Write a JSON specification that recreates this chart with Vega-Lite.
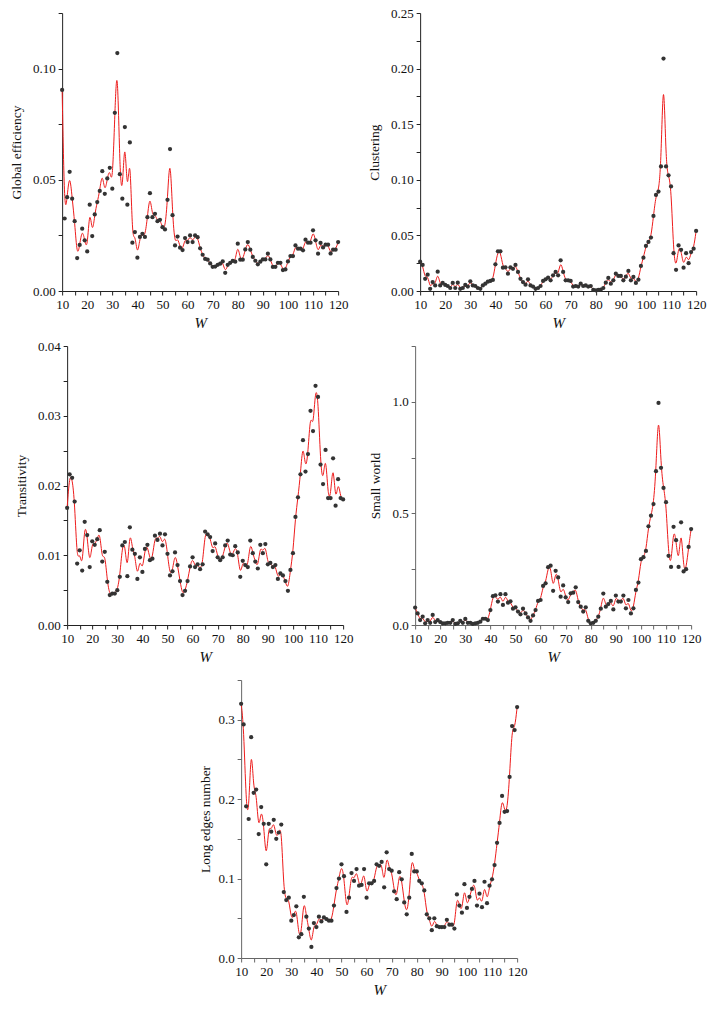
{
"$schema": "https://vega.github.io/schema/vega-lite/v6.json",
"padding": {"left": 9, "top": 7, "right": 5, "bottom": 5},
"background": "white",
"data": {"values": [
{"W":10,"ge":0.0904,"cl":0.0264,"tr":0.0168,"sw":0.078,"le":0.320},
{"W":11,"ge":0.0326,"cl":0.0234,"tr":0.0216,"sw":0.052,"le":0.294},
{"W":12,"ge":0.0422,"cl":0.011,"tr":0.0211,"sw":0.022,"le":0.191},
{"W":13,"ge":0.0536,"cl":0.0147,"tr":0.0177,"sw":0.037,"le":0.175},
{"W":14,"ge":0.0415,"cl":0.002,"tr":0.0088,"sw":0.0075,"le":0.278},
{"W":15,"ge":0.0314,"cl":0.008,"tr":0.0107,"sw":0.022,"le":0.208},
{"W":16,"ge":0.0148,"cl":0.005,"tr":0.0078,"sw":0.01,"le":0.212},
{"W":17,"ge":0.0207,"cl":0.0174,"tr":0.0148,"sw":0.045,"le":0.156},
{"W":18,"ge":0.028,"cl":0.005,"tr":0.0129,"sw":0.013,"le":0.19},
{"W":19,"ge":0.0228,"cl":0.0072,"tr":0.0083,"sw":0.022,"le":0.169},
{"W":20,"ge":0.0178,"cl":0.0054,"tr":0.012,"sw":0.013,"le":0.118},
{"W":21,"ge":0.0388,"cl":0.0045,"tr":0.0115,"sw":0.0075,"le":0.169},
{"W":22,"ge":0.0247,"cl":0.0027,"tr":0.0123,"sw":0.0075,"le":0.159},
{"W":23,"ge":0.0344,"cl":0.0072,"tr":0.0136,"sw":0.01,"le":0.174},
{"W":24,"ge":0.040,"cl":0.0027,"tr":0.0091,"sw":0.01,"le":0.15},
{"W":25,"ge":0.045,"cl":0.0075,"tr":0.0105,"sw":0.022,"le":0.158},
{"W":26,"ge":0.0539,"cl":0.002,"tr":0.0062,"sw":0.0045,"le":0.168},
{"W":27,"ge":0.0437,"cl":0.0027,"tr":0.0043,"sw":0.0075,"le":0.083},
{"W":28,"ge":0.0506,"cl":0.0054,"tr":0.0045,"sw":0.019,"le":0.073},
{"W":29,"ge":0.0554,"cl":0.004,"tr":0.0045,"sw":0.01,"le":0.076},
{"W":30,"ge":0.046,"cl":0.0087,"tr":0.005,"sw":0.027,"le":0.047},
{"W":31,"ge":0.0801,"cl":0.005,"tr":0.0069,"sw":0.01,"le":0.054},
{"W":32,"ge":0.107,"cl":0.0045,"tr":0.0114,"sw":0.01,"le":0.065},
{"W":33,"ge":0.0525,"cl":0.0027,"tr":0.0119,"sw":0.0045,"le":0.026},
{"W":34,"ge":0.0415,"cl":0.002,"tr":0.007,"sw":0.0075,"le":0.03},
{"W":35,"ge":0.0737,"cl":0.005,"tr":0.014,"sw":0.01,"le":0.077},
{"W":36,"ge":0.0388,"cl":0.0066,"tr":0.0108,"sw":0.015,"le":0.052},
{"W":37,"ge":0.0668,"cl":0.0084,"tr":0.0102,"sw":0.028,"le":0.037},
{"W":38,"ge":0.0217,"cl":0.009,"tr":0.0066,"sw":0.028,"le":0.014},
{"W":39,"ge":0.0265,"cl":0.0099,"tr":0.0097,"sw":0.022,"le":0.044},
{"W":40,"ge":0.015,"cl":0.024,"tr":0.0076,"sw":0.067,"le":0.039},
{"W":41,"ge":0.0243,"cl":0.0357,"tr":0.0109,"sw":0.129,"le":0.052},
{"W":42,"ge":0.0257,"cl":0.0357,"tr":0.0115,"sw":0.133,"le":0.046},
{"W":43,"ge":0.0243,"cl":0.021,"tr":0.0093,"sw":0.105,"le":0.051},
{"W":44,"ge":0.0332,"cl":0.0213,"tr":0.0095,"sw":0.138,"le":0.049},
{"W":45,"ge":0.044,"cl":0.0156,"tr":0.0128,"sw":0.09,"le":0.047},
{"W":46,"ge":0.0332,"cl":0.0213,"tr":0.0122,"sw":0.138,"le":0.047},
{"W":47,"ge":0.0347,"cl":0.020,"tr":0.0131,"sw":0.1,"le":0.066},
{"W":48,"ge":0.0314,"cl":0.0234,"tr":0.0114,"sw":0.106,"le":0.088},
{"W":49,"ge":0.032,"cl":0.0171,"tr":0.013,"sw":0.073,"le":0.1},
{"W":50,"ge":0.0287,"cl":0.011,"tr":0.0102,"sw":0.079,"le":0.118},
{"W":51,"ge":0.0277,"cl":0.008,"tr":0.0071,"sw":0.06,"le":0.103},
{"W":52,"ge":0.041,"cl":0.0057,"tr":0.0077,"sw":0.048,"le":0.058},
{"W":53,"ge":0.0638,"cl":0.0105,"tr":0.0104,"sw":0.073,"le":0.076},
{"W":54,"ge":0.0341,"cl":0.005,"tr":0.0086,"sw":0.052,"le":0.107},
{"W":55,"ge":0.0205,"cl":0.004,"tr":0.0063,"sw":0.034,"le":0.097},
{"W":56,"ge":0.0245,"cl":0.002,"tr":0.0043,"sw":0.019,"le":0.112},
{"W":57,"ge":0.0195,"cl":0.0027,"tr":0.0049,"sw":0.043,"le":0.091},
{"W":58,"ge":0.0184,"cl":0.0045,"tr":0.0063,"sw":0.067,"le":0.092},
{"W":59,"ge":0.0238,"cl":0.009,"tr":0.0084,"sw":0.108,"le":0.112},
{"W":60,"ge":0.022,"cl":0.0105,"tr":0.0097,"sw":0.112,"le":0.076},
{"W":61,"ge":0.025,"cl":0.012,"tr":0.0083,"sw":0.175,"le":0.094},
{"W":62,"ge":0.022,"cl":0.0096,"tr":0.0087,"sw":0.187,"le":0.094},
{"W":63,"ge":0.025,"cl":0.0141,"tr":0.008,"sw":0.259,"le":0.097},
{"W":64,"ge":0.0242,"cl":0.0171,"tr":0.0087,"sw":0.266,"le":0.118},
{"W":65,"ge":0.0192,"cl":0.0141,"tr":0.0134,"sw":0.153,"le":0.116},
{"W":66,"ge":0.0163,"cl":0.0276,"tr":0.013,"sw":0.243,"le":0.121},
{"W":67,"ge":0.0144,"cl":0.0171,"tr":0.0126,"sw":0.213,"le":0.089},
{"W":68,"ge":0.0141,"cl":0.0096,"tr":0.0106,"sw":0.127,"le":0.133},
{"W":69,"ge":0.0124,"cl":0.0096,"tr":0.0117,"sw":0.177,"le":0.112},
{"W":70,"ge":0.0109,"cl":0.009,"tr":0.0097,"sw":0.124,"le":0.11},
{"W":71,"ge":0.011,"cl":0.004,"tr":0.0093,"sw":0.103,"le":0.084},
{"W":72,"ge":0.0118,"cl":0.0045,"tr":0.0097,"sw":0.142,"le":0.074},
{"W":73,"ge":0.0123,"cl":0.004,"tr":0.0114,"sw":0.145,"le":0.108},
{"W":74,"ge":0.0133,"cl":0.0066,"tr":0.0121,"sw":0.169,"le":0.099},
{"W":75,"ge":0.0082,"cl":0.0045,"tr":0.0101,"sw":0.103,"le":0.07},
{"W":76,"ge":0.0118,"cl":0.005,"tr":0.01,"sw":0.082,"le":0.055},
{"W":77,"ge":0.0127,"cl":0.004,"tr":0.0113,"sw":0.06,"le":0.076},
{"W":78,"ge":0.0135,"cl":0.0045,"tr":0.0104,"sw":0.079,"le":0.131},
{"W":79,"ge":0.0132,"cl":0.001,"tr":0.0069,"sw":0.019,"le":0.109},
{"W":80,"ge":0.0213,"cl":0.0006,"tr":0.0092,"sw":0.0075,"le":0.109},
{"W":81,"ge":0.0141,"cl":0.001,"tr":0.0086,"sw":0.01,"le":0.097},
{"W":82,"ge":0.0141,"cl":0.0012,"tr":0.0083,"sw":0.019,"le":0.094},
{"W":83,"ge":0.0187,"cl":0.0027,"tr":0.0121,"sw":0.037,"le":0.085},
{"W":84,"ge":0.022,"cl":0.0075,"tr":0.0103,"sw":0.073,"le":0.055},
{"W":85,"ge":0.0186,"cl":0.0117,"tr":0.0091,"sw":0.141,"le":0.05},
{"W":86,"ge":0.0153,"cl":0.0066,"tr":0.0081,"sw":0.082,"le":0.035},
{"W":87,"ge":0.0136,"cl":0.0096,"tr":0.0115,"sw":0.094,"le":0.05},
{"W":88,"ge":0.012,"cl":0.0156,"tr":0.0103,"sw":0.108,"le":0.04},
{"W":89,"ge":0.0132,"cl":0.0135,"tr":0.0116,"sw":0.07,"le":0.039},
{"W":90,"ge":0.0142,"cl":0.0135,"tr":0.0087,"sw":0.132,"le":0.039},
{"W":91,"ge":0.0142,"cl":0.0096,"tr":0.0089,"sw":0.105,"le":0.039},
{"W":92,"ge":0.0168,"cl":0.0129,"tr":0.0083,"sw":0.105,"le":0.048},
{"W":93,"ge":0.0142,"cl":0.018,"tr":0.0086,"sw":0.132,"le":0.042},
{"W":94,"ge":0.0108,"cl":0.0096,"tr":0.0066,"sw":0.075,"le":0.042},
{"W":95,"ge":0.0109,"cl":0.0126,"tr":0.0074,"sw":0.112,"le":0.037},
{"W":96,"ge":0.0127,"cl":0.0072,"tr":0.0071,"sw":0.052,"le":0.08},
{"W":97,"ge":0.0127,"cl":0.0102,"tr":0.0063,"sw":0.075,"le":0.066},
{"W":98,"ge":0.0094,"cl":0.0225,"tr":0.0049,"sw":0.157,"le":0.057},
{"W":99,"ge":0.0097,"cl":0.030,"tr":0.0079,"sw":0.19,"le":0.093},
{"W":100,"ge":0.0133,"cl":0.0405,"tr":0.0103,"sw":0.295,"le":0.063},
{"W":101,"ge":0.0157,"cl":0.0441,"tr":0.0155,"sw":0.304,"le":0.077},
{"W":102,"ge":0.0157,"cl":0.048,"tr":0.0183,"sw":0.332,"le":0.087},
{"W":103,"ge":0.0205,"cl":0.0675,"tr":0.0216,"sw":0.442,"le":0.097},
{"W":104,"ge":0.019,"cl":0.0864,"tr":0.0265,"sw":0.49,"le":0.066},
{"W":105,"ge":0.019,"cl":0.0894,"tr":0.022,"sw":0.542,"le":0.081},
{"W":106,"ge":0.0183,"cl":0.112,"tr":0.0245,"sw":0.689,"le":0.064},
{"W":107,"ge":0.0231,"cl":0.209,"tr":0.0307,"sw":0.995,"le":0.096},
{"W":108,"ge":0.0217,"cl":0.112,"tr":0.0278,"sw":0.704,"le":0.069},
{"W":109,"ge":0.0217,"cl":0.104,"tr":0.0343,"sw":0.614,"le":0.091},
{"W":110,"ge":0.0273,"cl":0.094,"tr":0.0327,"sw":0.55,"le":0.099},
{"W":111,"ge":0.0228,"cl":0.034,"tr":0.023,"sw":0.31,"le":0.117},
{"W":112,"ge":0.0168,"cl":0.019,"tr":0.0202,"sw":0.26,"le":0.145},
{"W":113,"ge":0.0216,"cl":0.041,"tr":0.0251,"sw":0.44,"le":0.17},
{"W":114,"ge":0.0196,"cl":0.037,"tr":0.0182,"sw":0.38,"le":0.204},
{"W":115,"ge":0.0208,"cl":0.021,"tr":0.0182,"sw":0.26,"le":0.184},
{"W":116,"ge":0.0208,"cl":0.034,"tr":0.0239,"sw":0.46,"le":0.185},
{"W":117,"ge":0.0169,"cl":0.025,"tr":0.0171,"sw":0.24,"le":0.228},
{"W":118,"ge":0.0186,"cl":0.035,"tr":0.0209,"sw":0.25,"le":0.292},
{"W":119,"ge":0.0186,"cl":0.038,"tr":0.0182,"sw":0.35,"le":0.287},
{"W":120,"ge":0.022,"cl":0.054,"tr":0.018,"sw":0.43,"le":0.316}
]},
"config": {
  "view": {"stroke": null},
  "axis": {"grid": false, "labelFont": "Liberation Serif", "labelFontSize": 13, "titleFont": "Liberation Serif", "titleFontSize": 13.5, "titleFontWeight": "normal", "labelColor": "#111", "titleColor": "#111", "domainColor": "#222", "tickColor": "#222", "tickSize": 4, "labelPadding": 3, "labelOverlap": false, "labelFlush": false, "labelBound": false},
  "axisX": {"titleFontStyle": "italic", "titleFontSize": 15, "titlePadding": 4},
  "axisY": {"titlePadding": 9},
  "line": {"color": "#ee1c1c", "strokeWidth": 1, "interpolate": "basis"},
  "point": {"color": "#333333", "filled": true, "size": 18, "opacity": 1}
},
"center": true,
"spacing": 10,
"vconcat": [
 {"hconcat": [
  {"width": 276, "height": 278,
   "encoding": {
    "x": {"field": "W", "type": "quantitative", "scale": {"domain": [10, 120], "nice": false, "zero": false}, "axis": {"title": "W", "values": [10,15,20,25,30,35,40,45,50,55,60,65,70,75,80,85,90,95,100,105,110,115,120], "labelExpr": "datum.value % 10 == 0 ? datum.label : ''"}},
    "y": {"field": "ge", "type": "quantitative", "scale": {"domain": [0, 0.125], "nice": false}, "axis": {"title": "Global efficiency", "format": ".2f", "values": [0,0.025,0.05,0.075,0.1,0.125], "labelExpr": "abs(datum.value*20 - round(datum.value*20)) < 0.001 ? datum.label : (datum.value > 0.12 ? ' ' : '')"}}
   },
   "layer": [{"mark": "line", "encoding": {}}, {"mark": "point"}]
  },
  {"width": 276, "height": 278,
   "encoding": {
    "x": {"field": "W", "type": "quantitative", "scale": {"domain": [10, 120], "nice": false, "zero": false}, "axis": {"title": "W", "values": [10,15,20,25,30,35,40,45,50,55,60,65,70,75,80,85,90,95,100,105,110,115,120], "labelExpr": "datum.value % 10 == 0 ? datum.label : ''"}},
    "y": {"field": "cl", "type": "quantitative", "scale": {"domain": [0, 0.25], "nice": false}, "axis": {"title": "Clustering", "format": ".2f", "values": [0,0.025,0.05,0.075,0.1,0.125,0.15,0.175,0.2,0.225,0.25], "labelExpr": "abs(datum.value*20 - round(datum.value*20)) < 0.001 ? datum.label : ''"}}
   },
   "layer": [{"mark": "line", "encoding": {}}, {"mark": "point"}]
  }
 ], "spacing": 19},
 {"hconcat": [
  {"width": 276, "height": 279,
   "encoding": {
    "x": {"field": "W", "type": "quantitative", "scale": {"domain": [10, 120], "nice": false, "zero": false}, "axis": {"title": "W", "values": [10,15,20,25,30,35,40,45,50,55,60,65,70,75,80,85,90,95,100,105,110,115,120], "labelExpr": "datum.value % 10 == 0 ? datum.label : ''"}},
    "y": {"field": "tr", "type": "quantitative", "scale": {"domain": [0, 0.04], "nice": false}, "axis": {"title": "Transitivity", "format": ".2f", "values": [0,0.005,0.01,0.015,0.02,0.025,0.03,0.035,0.04], "labelExpr": "abs(datum.value*100 - round(datum.value*100)) < 0.001 ? datum.label : ''"}}
   },
   "layer": [{"mark": "line", "encoding": {}}, {"mark": "point"}]
  },
  {"width": 276, "height": 279,
   "encoding": {
    "x": {"field": "W", "type": "quantitative", "scale": {"domain": [10, 120], "nice": false, "zero": false}, "axis": {"title": "W", "domainColor": "#666", "tickColor": "#666", "values": [10,15,20,25,30,35,40,45,50,55,60,65,70,75,80,85,90,95,100,105,110,115,120], "labelExpr": "datum.value % 10 == 0 ? datum.label : ''"}},
    "y": {"field": "sw", "type": "quantitative", "scale": {"domain": [0, 1.25], "nice": false}, "axis": {"title": "Small world", "format": ".1f", "domainColor": "#666", "tickColor": "#666", "values": [0,0.25,0.5,0.75,1,1.25], "labelExpr": "abs(datum.value*2 - round(datum.value*2)) < 0.001 && datum.value < 1.2 ? datum.label : ''"}}
   },
   "layer": [{"mark": "line", "encoding": {}}, {"mark": "point"}]
  }
 ], "spacing": 15},
 {"width": 276, "height": 278,
  "encoding": {
   "x": {"field": "W", "type": "quantitative", "scale": {"domain": [10, 120], "nice": false, "zero": false}, "axis": {"title": "W", "domainColor": "#666", "tickColor": "#666", "values": [10,15,20,25,30,35,40,45,50,55,60,65,70,75,80,85,90,95,100,105,110,115,120], "labelExpr": "datum.value % 10 == 0 ? datum.label : ''"}},
   "y": {"field": "le", "type": "quantitative", "scale": {"domain": [0, 0.35], "nice": false}, "axis": {"title": "Long edges number", "titlePadding": 5, "format": ".1f", "domainColor": "#666", "tickColor": "#666", "values": [0,0.05,0.1,0.15,0.2,0.25,0.3,0.35], "labelExpr": "abs(datum.value*10 - round(datum.value*10)) < 0.001 ? datum.label : ''"}}
  },
  "layer": [{"mark": "line", "encoding": {}}, {"mark": "point"}]
 }
]
}
